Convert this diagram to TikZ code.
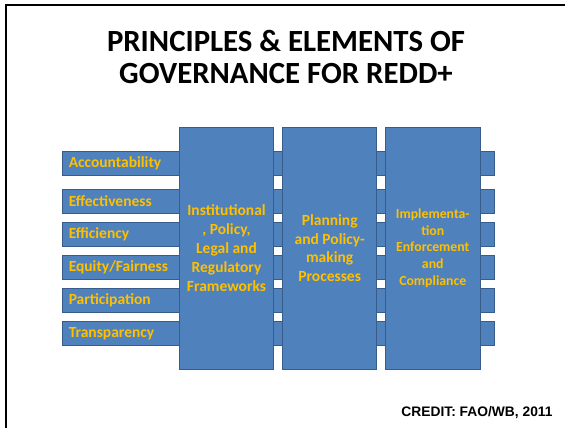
\documentclass[tikz,border=0pt]{standalone}
\usepackage{fontspec}
\setmainfont{Carlito}
\newfontfamily\arialf{Liberation Sans}
\definecolor{boxfill}{HTML}{4F81BD}
\definecolor{boxline}{HTML}{385D8A}
\definecolor{labelgold}{HTML}{FFC000}
\begin{document}
\begin{tikzpicture}[x=1pt,y=-1pt,
  bar/.style={draw=boxline, fill=boxfill, line width=0.9pt, minimum width=432pt,
    minimum height=24pt, anchor=west, inner xsep=6pt, inner ysep=0pt, text width=420pt,
    align=left, text=labelgold, font=\bfseries\fontsize{15.5}{18}\selectfont},
  pillar/.style={draw=boxline, fill=boxfill, line width=0.9pt, minimum width=94.4pt,
    minimum height=241.7pt, inner sep=0pt, align=center, text=labelgold},
  titletext/.style={anchor=base, font=\bfseries\fontsize{30.8}{33}\selectfont, inner sep=0pt},
  frameline/.style={line width=2pt, black}]
\useasboundingbox (0,0) rectangle (565,428);
\coordinate (ftl) at (6,5);
\coordinate (ftr) at (565,5);
\coordinate (fbl) at (6,428);
\draw[frameline] (ftl) -- (ftr);
\draw[frameline] ([yshift=1pt]ftl) -- (fbl);
\node[titletext] (title1) at (286,51.5) {PRINCIPLES \& ELEMENTS OF};
\node[titletext] (title2) at (286,84) {GOVERNANCE FOR REDD+};
\node[bar] (b1) at (62.3,163.7) {Accountability};
\node[bar] (b2) at (62.3,201.3) {Effectiveness};
\node[bar] (b3) at (62.3,234.5) {Efficiency};
\node[bar] (b4) at (62.3,267.2) {Equity/Fairness};
\node[bar] (b5) at (62.3,300.5) {Participation};
\node[bar] (b6) at (62.3,333.3) {Transparency};
\node[pillar, font=\bfseries\fontsize{15.5}{19}\selectfont] (p1) at (226.5,248.2)
  {Institutional\\, Policy,\\Legal and\\Regulatory\\Frameworks};
\node[pillar, font=\bfseries\fontsize{15.5}{18.5}\selectfont] (p2) at (329.7,248.2)
  {Planning\\and Policy-\\making\\Processes};
\node[pillar, font=\bfseries\fontsize{13.8}{16.7}\selectfont] (p3) at (432.8,248.2)
  {Implementa-\\tion\\Enforcement\\and\\Compliance};
\node[anchor=base, inner sep=0pt, font=\arialf\bfseries\fontsize{13.8}{16}\selectfont] (credit) at (477,416)
  {CREDIT: FAO/WB, 2011};
\end{tikzpicture}
\end{document}
